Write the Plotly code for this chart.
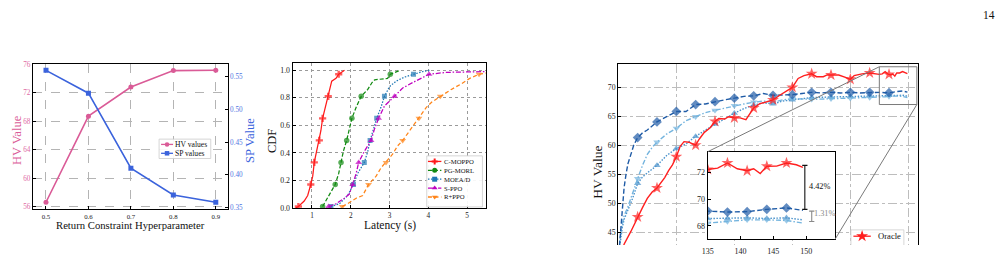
import plotly.graph_objects as go

W, H = 1002, 256
FONT = "Liberation Serif"

# ---------------- panel (a): hyperparameter sweep ----------------
hyper = [0.5, 0.6, 0.7, 0.8, 0.9]
hv_values = [56.6, 68.7, 72.8, 75.1, 75.15]
sp_values = [0.560, 0.525, 0.410, 0.369, 0.358]
hv_ticks = [56, 60, 64, 68, 72, 76]
sp_ticks = [0.35, 0.40, 0.45, 0.50, 0.55]

# ---------------- panel (b): latency CDF ----------------
cmoppo_lat = [0.58, 0.65, 0.80, 0.89, 0.97, 1.02, 1.06, 1.12, 1.19, 1.23, 1.275, 1.34, 1.42, 1.465, 1.51, 1.62, 1.69, 1.84]
cmoppo_cdf = [0.0, 0.01, 0.05, 0.09, 0.17, 0.23, 0.33, 0.41, 0.49, 0.56, 0.65, 0.73, 0.81, 0.87, 0.92, 0.94, 0.97, 1.0]
pgmorl_lat = [1.275, 1.40, 1.53, 1.60, 1.69, 1.75, 1.81, 1.895, 1.965, 2.03, 2.14, 2.27, 2.44, 2.55, 2.62, 2.95, 3.02, 3.28]
pgmorl_cdf = [0.01, 0.07, 0.14, 0.17, 0.25, 0.33, 0.41, 0.49, 0.57, 0.65, 0.73, 0.81, 0.86, 0.91, 0.93, 0.94, 0.97, 1.0]
moead_lat = [1.49, 1.71, 1.92, 2.07, 2.18, 2.35, 2.44, 2.50, 2.585, 2.67, 2.78, 2.87, 3.0, 3.17, 3.39, 3.62, 3.86, 4.05]
moead_cdf = [0.01, 0.03, 0.09, 0.17, 0.25, 0.33, 0.41, 0.49, 0.57, 0.65, 0.73, 0.81, 0.88, 0.92, 0.95, 0.97, 0.99, 1.0]
sppo_lat = [1.43, 1.62, 1.835, 1.965, 2.05, 2.14, 2.205, 2.35, 2.525, 2.61, 2.72, 2.87, 3.13, 3.34, 3.60, 4.02, 4.47, 5.15, 5.6]
sppo_cdf = [0.01, 0.03, 0.07, 0.10, 0.17, 0.25, 0.33, 0.41, 0.49, 0.57, 0.65, 0.74, 0.81, 0.87, 0.91, 0.97, 0.984, 0.988, 0.99]
rppo_lat = [1.78, 1.92, 2.14, 2.31, 2.46, 2.655, 2.78, 2.91, 3.08, 3.21, 3.34, 3.52, 3.645, 3.76, 3.95, 4.10, 4.31, 4.595, 4.85, 5.07, 5.31, 5.6]
rppo_cdf = [0.01, 0.03, 0.07, 0.09, 0.17, 0.23, 0.29, 0.33, 0.39, 0.45, 0.49, 0.56, 0.61, 0.65, 0.73, 0.77, 0.81, 0.86, 0.90, 0.94, 0.97, 0.985]
cdf_marker_levels = [0.01, 0.17, 0.33, 0.49, 0.65, 0.81, 0.97]
cdf_xticks = [1, 2, 3, 4, 5]
cdf_yticks = [0.0, 0.2, 0.4, 0.6, 0.8, 1.0]

# ---------------- panel (c): HV training curves ----------------
oracle_epoch = [0, 3, 6.5, 10, 12.5, 15, 17.5, 20, 22, 24, 26, 28, 30, 32, 34, 36.5, 40, 42, 44.5, 47.5,
                50, 52, 55, 57, 60, 63, 66, 68, 70, 73, 76.5, 80, 83.5, 87, 90, 93, 96, 100, 102.5, 106,
                108, 110, 114, 117.5, 120, 122, 126, 130, 133, 135, 136.5, 138, 139.5, 140, 141, 142, 143, 144, 145.5, 147,
                148.5, 149.5]
oracle_hv = [39.5, 42.9, 45.1, 47.6, 49.2, 50.8, 51.9, 52.6, 53.5, 54.4, 55.6, 56.6, 58.0, 59.8, 60.6, 60.5, 60.0, 61.1, 62.2, 63.0,
             64.1, 64.6, 64.5, 64.9, 64.7, 64.7, 64.4, 65.5, 66.4, 67.1, 67.4, 67.8, 68.6, 69.3, 69.95, 71.5, 72.0, 72.3, 71.8, 71.8,
             72.1, 72.1, 72.1, 71.7, 71.35, 72.0, 72.3, 72.45, 72.3, 72.2, 72.3, 72.68, 72.25, 72.2, 72.1, 72.25, 71.9, 72.44, 72.45, 72.68,
             72.55, 72.35]
dark_epoch = [0, 1, 2, 3, 4, 5, 6.5, 8, 10, 12.5, 15, 17.5, 20, 25, 30, 35, 40, 45, 50, 55,
              60, 65, 70, 75, 80, 85, 90, 95, 100, 105, 110, 115, 120, 125, 130, 135, 138, 140, 141, 144,
              147, 149.5]
dark_hv = [40.0, 44.3, 49.0, 52.7, 55.0, 56.8, 58.4, 60.0, 61.3, 62.1, 62.6, 63.3, 64.0, 64.9, 65.8, 65.8, 67.0, 67.1, 67.5, 67.8,
           68.1, 68.4, 68.5, 68.9, 68.6, 68.6, 68.7, 68.9, 69.1, 69.0, 69.1, 69.0, 69.1, 69.0, 69.1, 69.1, 69.03, 69.05, 69.06, 69.23,
           69.34, 69.15]
light_epoch = [0, 1, 2, 3, 4.8, 7.4, 10, 12.5, 15, 17.5, 20, 25, 30, 35, 40, 45, 50, 55, 60, 65,
               70, 75, 80, 85, 90, 95, 100, 110, 120, 130, 135, 138, 140, 141, 144, 147, 149.5]
tdown_hv = [41.0, 44.3, 46.3, 47.8, 49.2, 51.9, 54.2, 56.5, 58.4, 59.6, 60.5, 61.9, 62.9, 64.2, 64.9, 65.6, 66.0, 66.4, 66.8, 67.1,
            67.4, 67.6, 67.4, 67.8, 68.0, 67.9, 67.9, 68.0, 68.1, 68.2, 68.21, 68.33, 68.4, 68.45, 68.45, 68.4, 68.21]
tup_hv = [40.5, 43.5, 45.7, 47.2, 48.7, 50.8, 53.4, 54.5, 55.2, 55.9, 56.5, 58.2, 59.4, 60.2, 61.5, 62.6, 63.6, 64.6, 65.5, 66.3,
          66.9, 67.3, 67.1, 67.6, 67.8, 68.1, 68.2, 68.3, 68.4, 68.5, 68.55, 68.55, 68.58, 68.6, 68.55, 68.6, 68.45]
main_marker_epochs = [10, 20, 30, 40, 50, 60, 70, 80, 90, 100, 110, 120, 130, 140]
inset_marker_epochs = [135, 138, 141, 144, 147]
hv_xticks = [0, 30, 60, 90, 120, 150]
hv_yticks = [45, 50, 55, 60, 65, 70]
inset_xticks = [135, 140, 145, 150]
inset_yticks = [68, 70, 72]
gap_big = (72.5, 69.23, "4.42%")
gap_small = (69.1, 68.33, "1.31%")

# ---------------- geometry (pixels) ----------------
def dx(px):
    return px / W

def dy(py):
    return 1 - py / H

P1 = (27, 223, 64, 218.3)
P2 = (288.3, 483.3, 63.3, 217.3)
P3 = (616, 917.7, 64, 256)
PI = (706, 834, 157.3, 250)
X1R, Y1R, Y1R2 = [0.469, 0.928], [55.6, 76.1], [0.347, 0.5705]
X2R, Y2R = [0.5, 5.5], [-0.004, 1.053]
X3R, Y3R = [0, 155.1], [42.76, 74.08]
ZXR, ZYR = [135, 154.4], [67.0, 73.52]

PINK, PINK_T = "#DA5B97", "#DE6BA3"
BLUE, BLUE_T = "#3B63DC", "#4F74E2"
GRID = "#b4b4b4"
C_RED, C_GREEN, C_BLUE, C_MAG, C_ORG = "#ff1a1a", "#118a11", "#1f77b4", "#c000c0", "#ff8418"
O_RED, D_BLUE, L_BLUE, M_BLUE = "#ff1f1f", "#1F5BA6", "#74B4DE", "#4A92CB"

fig = go.Figure()

def sizes(vals, targets, s):
    return [s if any(abs(v - t) < 1e-9 for t in targets) else 0 for v in vals]

# panel (a)
fig.add_trace(go.Scatter(x=hyper, y=hv_values, xaxis="x", yaxis="y", mode="lines+markers",
                         line=dict(color=PINK, width=1.6), marker=dict(symbol="circle", size=5, color=PINK)))
fig.add_trace(go.Scatter(x=hyper, y=sp_values, xaxis="x", yaxis="y2", mode="lines+markers",
                         line=dict(color=BLUE, width=1.6), marker=dict(symbol="square", size=5, color=BLUE)))

# panel (b)
cdf_series = [
    ("C-MOPPO", cmoppo_lat, cmoppo_cdf, C_RED, "solid", "cross", 6),
    ("PG-MORL", pgmorl_lat, pgmorl_cdf, C_GREEN, "4px,2px", "circle", 5.5),
    ("MOEA/D", moead_lat, moead_cdf, C_BLUE, "1.5px,1.5px", "square", 5),
    ("S-PPO", sppo_lat, sppo_cdf, C_MAG, "5px,1.8px,1.5px,1.8px", "triangle-up", 6),
    ("R+PPO", rppo_lat, rppo_cdf, C_ORG, "4px,2.5px", "triangle-down", 6),
]
for name, lat, cdf, col, dash, sym, ms in cdf_series:
    fig.add_trace(go.Scatter(x=lat, y=cdf, xaxis="x2", yaxis="y3", mode="lines+markers", name=name,
                             line=dict(color=col, width=1.25, dash=dash),
                             marker=dict(symbol=sym, size=sizes(cdf, cdf_marker_levels, ms), color=col,
                                         line=dict(width=0))))

# panel (c) main + inset
hv_series = [
    ("b1", light_epoch, tup_hv, M_BLUE, "1.5px,1.5px", "triangle-up", 6.5),
    ("b2", light_epoch, tdown_hv, L_BLUE, "5px,2px,1.5px,2px", "triangle-down", 6.5),
    ("b3", dark_epoch, dark_hv, D_BLUE, "5px,2.5px", "diamond", 7.5),
    ("Oracle", oracle_epoch, oracle_hv, O_RED, "solid", "star", 9),
]
for name, ep, hv, col, dash, sym, ms in hv_series:
    fig.add_trace(go.Scatter(x=ep, y=hv, xaxis="x3", yaxis="y4", mode="lines+markers",
                             line=dict(color=col, width=1.4, dash=dash),
                             marker=dict(symbol=sym, size=sizes(ep, main_marker_epochs, ms), color=col,
                                         line=dict(width=0))))
for name, ep, hv, col, dash, sym, ms in hv_series:
    fig.add_trace(go.Scatter(x=ep, y=hv, xaxis="x4", yaxis="y5", mode="lines+markers",
                             line=dict(color=col, width=1.4, dash=dash),
                             marker=dict(symbol=sym, size=sizes(ep, inset_marker_epochs, ms), color=col,
                                         line=dict(width=0))))

# ---------------- custom legends on a pixel overlay ----------------
shapes, annotations = [], []

def legend_box(x0, x1, y0, y1):
    shapes.append(dict(type="rect", xref="x5", yref="y6", x0=x0, x1=x1, y0=y0, y1=y1,
                       line=dict(color="#cccccc", width=0.8), fillcolor="rgba(255,255,255,0.92)", layer="below"))

def legend_item(xa, xb, y, col, dash, sym, ms, text, fs, tx):
    fig.add_trace(go.Scatter(x=[xa, xb], y=[y, y], xaxis="x5", yaxis="y6", mode="lines",
                             line=dict(color=col, width=1.3, dash=dash), hoverinfo="skip"))
    fig.add_trace(go.Scatter(x=[(xa + xb) / 2], y=[y], xaxis="x5", yaxis="y6", mode="markers",
                             marker=dict(symbol=sym, size=ms, color=col, line=dict(width=0)), hoverinfo="skip"))
    if text:
        annotations.append(dict(xref="x5", yref="y6", x=tx, y=y, text=text, showarrow=False, borderpad=0,
                                xanchor="left", yanchor="middle", font=dict(size=fs, color="#111")))

legend_box(154, 206, 144, 164.5)
legend_item(156, 168, 149.6, PINK, "solid", "circle", 4.5, "HV values", 7.6, 169)
legend_item(156, 168, 159.0, BLUE, "solid", "square", 4.5, "SP values", 7.6, 169)

legend_box(423.3, 479.3, 161.7, 215.7)
for i, (name, lat, cdf, col, dash, sym, ms) in enumerate(cdf_series):
    legend_item(424.5, 438, 167.6 + i * 9.4, col, dash, sym, 5, name, 6.7, 439.5)

legend_box(850, 903.3, 240, 300)
leg3 = [hv_series[3], hv_series[0], hv_series[1], hv_series[2]]
for i, (name, ep, hv, col, dash, sym, ms) in enumerate(leg3):
    legend_item(852.5, 870, 246.7 + i * 12.6, col, dash, sym, ms, "Oracle" if i == 0 else "", 8.6, 876)

# ---------------- zoom box, connectors, inset decorations ----------------
def c3_px(x, y):
    px = P3[0] + (x - X3R[0]) / (X3R[1] - X3R[0]) * (P3[1] - P3[0])
    py = P3[3] - (y - Y3R[0]) / (Y3R[1] - Y3R[0]) * (P3[3] - P3[2])
    return px, py

shapes.append(dict(type="rect", xref="x4", yref="y5", x0=ZXR[0], x1=ZXR[1], y0=ZYR[0], y1=ZYR[1],
                   fillcolor="white", line=dict(width=0), layer="below"))
shapes.append(dict(type="rect", xref="x3", yref="y4", x0=ZXR[0], x1=ZXR[1], y0=ZYR[0], y1=ZYR[1],
                   line=dict(color="#7a7a7a", width=1), layer="above"))
bx, by = c3_px(ZXR[0], ZYR[1])
shapes.append(dict(type="line", xref="paper", yref="paper", x0=dx(bx), y0=dy(by), x1=dx(PI[0]), y1=dy(PI[2]),
                   line=dict(color="#7a7a7a", width=1), layer="above"))
bx, by = c3_px(ZXR[1], ZYR[0])
shapes.append(dict(type="line", xref="paper", yref="paper", x0=dx(bx), y0=dy(by), x1=dx(PI[1]), y1=dy(PI[3]),
                   line=dict(color="#7a7a7a", width=1), layer="above"))

def bracket(x, top, bot, col, txt, tx, ty):
    for seg in [(x, top, x, bot), (x - 0.4, top, x + 0.4, top), (x - 0.4, bot, x + 0.4, bot)]:
        shapes.append(dict(type="line", xref="x4", yref="y5", x0=seg[0], y0=seg[1], x1=seg[2], y1=seg[3],
                           line=dict(color=col, width=1.1), layer="above"))
    annotations.append(dict(xref="x4", yref="y5", x=tx, y=ty, text=txt, showarrow=False, xanchor="left",
                            yanchor="middle", borderpad=0, font=dict(size=8.3, color=col)))

bracket(149.8, gap_big[0], gap_big[1], "#111111", gap_big[2], 150.3, 70.95)
bracket(150.85, gap_small[0], gap_small[1], "#8a8a8a", gap_small[2], 151.1, 68.92)

# ---------------- axis titles & page number ----------------
def ann_px(x, y, text, size, color="#111", angle=0):
    annotations.append(dict(xref="paper", yref="paper", x=dx(x), y=dy(y), text=text, showarrow=False,
                            xanchor="center", yanchor="middle", textangle=angle, borderpad=0,
                            font=dict(size=size, color=color)))

ann_px(11, 145, "HV Value", 12.5, PINK, -90)
ann_px(245, 145.5, "SP Value", 12.5, BLUE, -90)
ann_px(125.5, 234.5, "Return Constraint Hyperparameter", 10.7)
ann_px(267.7, 146, "CDF", 12.5, "#111", -90)
ann_px(386, 235.5, "Latency (s)", 11.5)
ann_px(595, 179, "HV Value", 13.5, "#111", -90)
ann_px(988.5, 13, "14", 11.5)

# ---------------- axes ----------------
def axis_common(**kw):
    d = dict(showline=True, linecolor="black", linewidth=1, ticks="inside", ticklen=3, tickwidth=0.8,
             tickcolor="black", zeroline=False, showgrid=True, gridcolor=GRID, gridwidth=0.8,
             tickfont=dict(size=7, color="#222"), fixedrange=True)
    d.update(kw)
    return d

fig.update_layout(
    width=W, height=H, margin=dict(l=0, r=0, t=0, b=0), autosize=False,
    paper_bgcolor="white", plot_bgcolor="rgba(0,0,0,0)", showlegend=False,
    font=dict(family=FONT, color="#111"), hovermode=False,
    xaxis=axis_common(domain=[dx(P1[0]), dx(P1[1])], range=X1R, anchor="y", tickvals=hyper,
                      ticktext=[f"{v:.1f}" for v in hyper], mirror=True, griddash="dash",
                      tickfont=dict(size=6.8, color="#222")),
    yaxis=axis_common(domain=[dy(P1[3]), dy(P1[2])], range=Y1R, anchor="x", tickvals=hv_ticks,
                      griddash="dash", tickfont=dict(size=7.2, color=PINK_T)),
    yaxis2=axis_common(overlaying="y", side="right", anchor="x", range=Y1R2, tickvals=sp_ticks,
                       ticktext=[f"{v:.2f}" for v in sp_ticks], showgrid=False,
                       tickfont=dict(size=7.2, color=BLUE_T)),
    xaxis2=axis_common(domain=[dx(P2[0]), dx(P2[1])], range=X2R, anchor="y3", tickvals=cdf_xticks,
                       mirror=True, griddash="dot", gridcolor="#9a9a9a", tickfont=dict(size=7.3, color="#222")),
    yaxis3=axis_common(domain=[dy(P2[3]), dy(P2[2])], range=Y2R, anchor="x2", tickvals=cdf_yticks,
                       ticktext=[f"{v:.1f}" for v in cdf_yticks], mirror=True, griddash="dot",
                       gridcolor="#9a9a9a", tickfont=dict(size=7.8, color="#222")),
    xaxis3=axis_common(domain=[dx(P3[0]), dx(P3[1])], range=X3R, anchor="y4", side="top",
                       tickvals=hv_xticks, showticklabels=False, ticks="", linewidth=1.2,
                       griddash="dashdot", gridcolor="#bdbdbd"),
    yaxis4=axis_common(domain=[0, dy(P3[2])], range=Y3R, anchor="x3", tickvals=hv_yticks, mirror=True,
                       linewidth=1.2, griddash="dashdot", gridcolor="#bdbdbd",
                       tickfont=dict(size=7.8, color="#222")),
    xaxis4=axis_common(domain=[dx(PI[0]), dx(PI[1])], range=ZXR, anchor="y5", tickvals=inset_xticks,
                       mirror=True, linewidth=1.2, showgrid=False, ticklabelstandoff=4,
                       tickfont=dict(size=8, color="#222")),
    yaxis5=axis_common(domain=[dy(PI[3]), dy(PI[2])], range=ZYR, anchor="x4", tickvals=inset_yticks,
                       mirror=True, linewidth=1.2, showgrid=False, tickfont=dict(size=8, color="#222")),
    xaxis5=dict(domain=[0, 1], range=[0, W], anchor="y6", visible=False, fixedrange=True),
    yaxis6=dict(domain=[0, 1], range=[H, 0], anchor="x5", visible=False, fixedrange=True),
    shapes=shapes, annotations=annotations,
)

fig.write_html("out.html", config={"displayModeBar": False})
